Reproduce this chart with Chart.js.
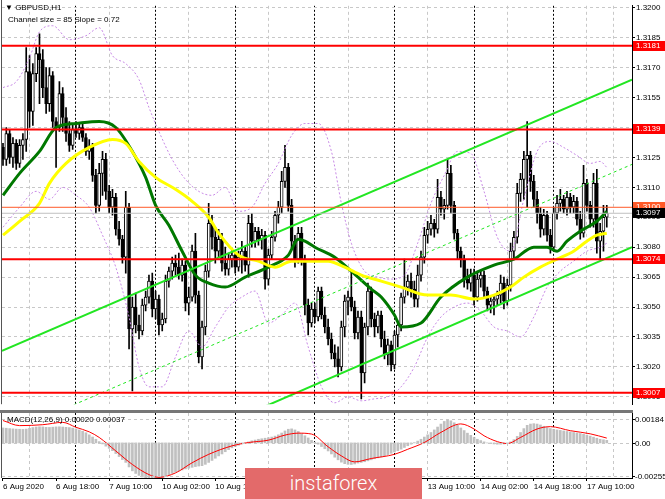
<!DOCTYPE html>
<html>
<head>
<meta charset="utf-8">
<title>GBPUSD,H1</title>
<script src="https://cdn.jsdelivr.net/npm/chart.js"></script>
<style>
  body { margin: 0; background: #fff; }
  #wrap { position: relative; width: 665px; height: 499px; overflow: hidden; background: #fff; font-family: "Liberation Sans", Arial, sans-serif; }
  canvas { position: absolute; left: 0; }
  #main { top: 0; }
  #macd { top: 410px; }
  .lbl { position: absolute; font-size: 8px; line-height: 10px; color: #000; white-space: nowrap; }
  #sep { position: absolute; left: 0; top: 410px; width: 633px; height: 3px; background: #777; }
  #logo { position: absolute; left: 245px; top: 468px; width: 177px; height: 31px; background: #e36a6a; color: #fff; font: 300 20px Roboto, sans-serif; line-height: 31px; text-align: center; }
</style>
</head>
<body>
<div id="wrap">
  <canvas id="main" width="665" height="410"></canvas>
  <canvas id="macd" width="665" height="89"></canvas>
  <div id="sep"></div>
  <div class="lbl" style="left:5px;top:3px">▼ GBPUSD,H1</div>
  <div class="lbl" style="left:8px;top:15px">Channel size = 85 Slope = 0.72</div>
  <div class="lbl" style="left:7px;top:415px">MACD(12,26,9) 0.00020 0.00037</div>
  <div id="logo">instaforex</div>
</div>
<script>
// H1 bars, bar 0 = 6 Aug 02:00
const open = [
  1.3130,1.3124,1.3137,1.3125,1.3132,1.3122,1.3131,1.3134,1.3168,1.3148,
  1.3167,1.3177,1.3174,1.3160,1.3152,1.3166,1.3143,1.3140,1.3157,1.3145,
  1.3137,1.3131,1.3139,1.3137,1.3140,1.3135,1.3128,1.3130,1.3116,1.3101,
  1.3117,1.3124,1.3108,1.3100,1.3105,1.3089,1.3084,1.3075,1.3100,1.3039,
  1.3050,1.3041,1.3038,1.3051,1.3055,1.3063,1.3049,1.3054,1.3041,1.3044,
  1.3063,1.3068,1.3072,1.3070,1.3066,1.3071,1.3052,1.3055,1.3078,1.3056,
  1.3025,1.3040,1.3068,1.3092,1.3085,1.3078,1.3084,1.3072,1.3069,1.3074,
  1.3076,1.3070,1.3075,1.3078,1.3071,1.3092,1.3083,1.3088,1.3084,1.3086,
  1.3064,1.3076,1.3085,1.3096,1.3100,1.3113,1.3120,1.3101,1.3083,1.3074,
  1.3087,1.3074,1.3051,1.3042,1.3049,1.3045,1.3058,1.3046,1.3040,1.3034,
  1.3027,1.3024,1.3020,1.3040,1.3053,1.3055,1.3050,1.3037,1.3045,1.3017,
  1.3040,1.3058,1.3044,1.3040,1.3046,1.3034,1.3026,1.3031,1.3021,1.3036,
  1.3041,1.3055,1.3060,1.3063,1.3059,1.3054,1.3066,1.3075,1.3086,1.3089,
  1.3092,1.3089,1.3105,1.3099,1.3101,1.3117,1.3101,1.3087,1.3078,1.3074,
  1.3064,1.3062,1.3066,1.3055,1.3064,1.3066,1.3058,1.3051,1.3053,1.3054,
  1.3056,1.3062,1.3053,1.3061,1.3078,1.3085,1.3107,1.3114,1.3124,1.3126,
  1.3113,1.3104,1.3097,1.3089,1.3096,1.3086,1.3080,1.3097,1.3102,1.3104,
  1.3099,1.3105,1.3100,1.3103,1.3094,1.3087,1.3112,1.3101,1.3094,1.3112,
  1.3083,1.3088,1.3095
];
const high = [
  1.3132,1.3140,1.3139,1.3135,1.3134,1.3134,1.3137,1.3180,1.3176,1.3172,
  1.3180,1.3187,1.3179,1.3170,1.3170,1.3168,1.3145,1.3163,1.3160,1.3150,
  1.3143,1.3142,1.3143,1.3142,1.3142,1.3137,1.3134,1.3132,1.3119,1.3122,
  1.3128,1.3127,1.3111,1.3109,1.3107,1.3093,1.3086,1.3108,1.3102,1.3055,
  1.3057,1.3046,1.3054,1.3058,1.3066,1.3067,1.3058,1.3056,1.3047,1.3066,
  1.3070,1.3075,1.3076,1.3077,1.3074,1.3073,1.3060,1.3081,1.3087,1.3058,
  1.3043,1.3071,1.3102,1.3096,1.3090,1.3089,1.3087,1.3080,1.3077,1.3079,
  1.3078,1.3078,1.3083,1.3080,1.3096,1.3097,1.3090,1.3090,1.3089,1.3088,
  1.3079,1.3088,1.3098,1.3103,1.3118,1.3131,1.3122,1.3104,1.3086,1.3090,
  1.3090,1.3076,1.3054,1.3052,1.3052,1.3060,1.3060,1.3050,1.3044,1.3037,
  1.3031,1.3030,1.3043,1.3056,1.3058,1.3068,1.3053,1.3048,1.3048,1.3042,
  1.3062,1.3060,1.3047,1.3048,1.3048,1.3038,1.3034,1.3033,1.3038,1.3043,
  1.3057,1.3074,1.3066,1.3067,1.3063,1.3071,1.3078,1.3090,1.3093,1.3096,
  1.3094,1.3114,1.3108,1.3104,1.3124,1.3121,1.3103,1.3089,1.3080,1.3076,
  1.3069,1.3069,1.3069,1.3068,1.3068,1.3068,1.3060,1.3055,1.3056,1.3058,
  1.3066,1.3065,1.3064,1.3082,1.3088,1.3112,1.3117,1.3128,1.3143,1.3128,
  1.3116,1.3108,1.3100,1.3099,1.3098,1.3089,1.3100,1.3106,1.3109,1.3106,
  1.3108,1.3107,1.3106,1.3105,1.3098,1.3121,1.3114,1.3103,1.3117,1.3119,
  1.3092,1.3101,1.3101
];
const low = [
  1.3121,1.3121,1.3122,1.3120,1.3119,1.3120,1.3124,1.3128,1.3140,1.3141,
  1.3163,1.3152,1.3155,1.3147,1.3148,1.3140,1.3120,1.3138,1.3138,1.3133,
  1.3128,1.3129,1.3135,1.3134,1.3133,1.3126,1.3124,1.3113,1.3097,1.3098,
  1.3106,1.3104,1.3097,1.3096,1.3086,1.3081,1.3072,1.3067,1.3029,1.3008,
  1.3037,1.3034,1.3036,1.3048,1.3052,1.3045,1.3044,1.3036,1.3038,1.3042,
  1.3060,1.3064,1.3066,1.3064,1.3063,1.3048,1.3046,1.3053,1.3052,1.3022,
  1.3019,1.3036,1.3065,1.3079,1.3072,1.3075,1.3068,1.3066,1.3066,1.3070,
  1.3067,1.3068,1.3067,1.3068,1.3065,1.3080,1.3080,1.3081,1.3079,1.3059,
  1.3061,1.3074,1.3083,1.3092,1.3097,1.3110,1.3098,1.3080,1.3070,1.3072,
  1.3071,1.3046,1.3036,1.3040,1.3042,1.3043,1.3044,1.3037,1.3031,1.3024,
  1.3020,1.3015,1.3018,1.3035,1.3046,1.3048,1.3034,1.3034,1.3004,1.3012,
  1.3036,1.3040,1.3035,1.3037,1.3030,1.3024,1.3021,1.3018,1.3019,1.3030,
  1.3038,1.3052,1.3056,1.3055,1.3050,1.3050,1.3063,1.3072,1.3082,1.3086,
  1.3085,1.3087,1.3096,1.3094,1.3099,1.3097,1.3084,1.3074,1.3070,1.3060,
  1.3059,1.3058,1.3051,1.3053,1.3060,1.3055,1.3048,1.3047,1.3046,1.3051,
  1.3052,1.3049,1.3051,1.3058,1.3074,1.3082,1.3103,1.3104,1.3100,1.3108,
  1.3100,1.3092,1.3085,1.3086,1.3083,1.3077,1.3078,1.3094,1.3098,1.3097,
  1.3096,1.3097,1.3097,1.3091,1.3084,1.3085,1.3098,1.3090,1.3090,1.3077,
  1.3074,1.3078,1.3090
];
const close = [
  1.3124,1.3137,1.3125,1.3132,1.3122,1.3131,1.3134,1.3168,1.3148,1.3167,
  1.3177,1.3174,1.3160,1.3152,1.3166,1.3143,1.3140,1.3157,1.3145,1.3137,
  1.3131,1.3139,1.3137,1.3140,1.3135,1.3128,1.3130,1.3116,1.3101,1.3117,
  1.3124,1.3108,1.3100,1.3105,1.3089,1.3084,1.3075,1.3100,1.3039,1.3050,
  1.3041,1.3038,1.3051,1.3055,1.3063,1.3049,1.3054,1.3041,1.3044,1.3063,
  1.3068,1.3072,1.3070,1.3066,1.3071,1.3052,1.3055,1.3078,1.3056,1.3025,
  1.3040,1.3068,1.3092,1.3085,1.3078,1.3084,1.3072,1.3069,1.3074,1.3076,
  1.3070,1.3075,1.3078,1.3071,1.3092,1.3083,1.3088,1.3084,1.3086,1.3064,
  1.3076,1.3085,1.3096,1.3100,1.3113,1.3120,1.3101,1.3083,1.3074,1.3087,
  1.3074,1.3051,1.3042,1.3049,1.3045,1.3058,1.3046,1.3040,1.3034,1.3027,
  1.3024,1.3020,1.3040,1.3053,1.3055,1.3050,1.3037,1.3045,1.3017,1.3040,
  1.3058,1.3044,1.3040,1.3046,1.3034,1.3026,1.3031,1.3021,1.3036,1.3041,
  1.3055,1.3060,1.3063,1.3059,1.3054,1.3066,1.3075,1.3086,1.3089,1.3092,
  1.3089,1.3105,1.3099,1.3101,1.3117,1.3101,1.3087,1.3078,1.3074,1.3064,
  1.3062,1.3066,1.3055,1.3064,1.3066,1.3058,1.3051,1.3053,1.3054,1.3056,
  1.3062,1.3053,1.3061,1.3078,1.3085,1.3107,1.3114,1.3124,1.3126,1.3113,
  1.3104,1.3097,1.3089,1.3096,1.3086,1.3080,1.3097,1.3102,1.3104,1.3099,
  1.3105,1.3100,1.3103,1.3094,1.3087,1.3112,1.3101,1.3094,1.3112,1.3083,
  1.3088,1.3095,1.3097
];

// moving averages, read at sample bars
const greenBars = [0,5,11,16,22,29,34,39,43,46,50,54,58,62,67,73,80,86,89,91,94,100,105,111,114,118,120,126,132,140,148,154,160,164,167,170,174,179,182];
const greenValues = [1.3106,1.3117,1.3128,1.3140,1.3142,1.3143,1.3140,1.3128,1.3115,1.3101,1.3091,1.3078,1.3066,1.3062,1.3060,1.3065,1.3070,1.3076,1.3084,1.3083,1.3080,1.3075,1.3068,1.3059,1.3055,1.3046,1.3040,1.3042,1.3055,1.3065,1.3071,1.3074,1.3080,1.3080,1.3078,1.3083,1.3088,1.3093,1.3098];
const yellowBars = [0,5,11,14,19,26,33,37,41,46,52,57,62,65,71,77,82,87,93,98,103,108,114,120,128,135,142,148,153,157,162,167,172,176,179,182];
const yellowValues = [1.3086,1.3093,1.3102,1.3112,1.3122,1.3130,1.3134,1.3132,1.3123,1.3115,1.3109,1.3103,1.3095,1.3087,1.3076,1.3073,1.3070,1.3073,1.3073,1.3073,1.3070,1.3066,1.3063,1.3060,1.3056,1.3056,1.3054,1.3056,1.3060,1.3065,1.3070,1.3074,1.3078,1.3083,1.3086,1.3087];

// envelope bands
const upperBars = [0,4,8,11,15,20,25,29,33,37,41,44,47,51,55,59,63,67,71,75,79,83,87,91,95,99,102,105,109,113,117,121,125,129,133,137,141,145,149,153,157,161,165,169,173,177,180,182];
const upperValues = [1.3160,1.3163,1.3175,1.3188,1.3191,1.3184,1.3186,1.3190,1.3176,1.3172,1.3164,1.3150,1.3138,1.3124,1.3114,1.3108,1.3106,1.3110,1.3098,1.3100,1.3112,1.3122,1.3136,1.3142,1.3142,1.3128,1.3102,1.3082,1.3068,1.3065,1.3064,1.3066,1.3082,1.3102,1.3116,1.3128,1.3127,1.3108,1.3085,1.3078,1.3104,1.3128,1.3133,1.3130,1.3126,1.3122,1.3123,1.3120];
const lowerBars = [0,5,10,14,18,22,26,30,34,38,41,44,48,52,56,60,64,68,72,76,80,84,88,92,96,100,104,108,112,116,120,124,128,132,136,140,144,148,152,156,160,164,168,172,176,180,182];
const lowerValues = [1.3090,1.3100,1.3108,1.3104,1.3110,1.3106,1.3100,1.3086,1.3070,1.3045,1.3020,1.3010,1.3010,1.3025,1.3038,1.3030,1.3040,1.3050,1.3055,1.3058,1.3042,1.3046,1.3052,1.3030,1.3010,1.3002,1.3005,1.3003,1.3004,1.3005,1.3010,1.3020,1.3035,1.3045,1.3050,1.3052,1.3048,1.3040,1.3038,1.3035,1.3045,1.3060,1.3068,1.3073,1.3078,1.3080,1.3082];

// regression channel (ends at the chart edges)
const channelBars = [-0.3, 189.6];
const channelUpper = [1.3028, 1.3164];
const channelMiddle = [1.29855, 1.31215];
const channelLower = [1.2943, 1.3080];

// horizontal levels
const levels = [1.3181, 1.3139, 1.3074, 1.3007];
const orangeLevel = 1.3100;
const bidPrice = 1.3097;

const priceTicks = [1.3005,1.3020,1.3035,1.3050,1.3065,1.3080,1.3095,1.3110,1.3125,1.3140,1.3155,1.3170,1.3185,1.3200];

// MACD(12,26,9)
const macdHist = [
  0.00115,0.00113,0.00110,0.00108,0.00106,0.00105,0.00104,0.00106,0.00112,0.00118,
  0.00122,0.00124,0.00123,0.00120,0.00119,0.00121,0.00123,0.00124,0.00122,0.00120,
  0.00118,0.00114,0.00108,0.00100,0.00090,0.00078,0.00062,0.00045,0.00028,0.00010,
  -0.00008,-0.00025,-0.00042,-0.00060,-0.00082,-0.00105,-0.00128,-0.00150,-0.00185,-0.00215,
  -0.00235,-0.00250,-0.00262,-0.00272,-0.00278,-0.00280,-0.00278,-0.00272,-0.00265,-0.00255,
  -0.00245,-0.00235,-0.00225,-0.00215,-0.00208,-0.00200,-0.00195,-0.00188,-0.00182,-0.00178,
  -0.00175,-0.00165,-0.00150,-0.00135,-0.00118,-0.00100,-0.00085,-0.00068,-0.00052,-0.00038,
  -0.00028,-0.00018,-0.00008,0.00000,0.00008,0.00016,0.00022,0.00028,0.00032,0.00036,
  0.00040,0.00045,0.00052,0.00062,0.00076,0.00092,0.00105,0.00108,0.00100,0.00088,
  0.00072,0.00055,0.00038,0.00020,0.00005,-0.00010,-0.00028,-0.00045,-0.00062,-0.00085,
  -0.00110,-0.00130,-0.00148,-0.00160,-0.00165,-0.00166,-0.00162,-0.00155,-0.00150,-0.00145,
  -0.00138,-0.00130,-0.00122,-0.00115,-0.00108,-0.00100,-0.00090,-0.00080,-0.00070,-0.00060,
  -0.00048,-0.00035,-0.00022,-0.00010,0.00002,0.00014,0.00028,0.00045,0.00062,0.00080,
  0.00100,0.00122,0.00145,0.00165,0.00175,0.00170,0.00155,0.00135,0.00115,0.00095,
  0.00075,0.00058,0.00042,0.00028,0.00018,0.00008,0.00000,-0.00005,-0.00008,-0.00010,
  -0.00010,-0.00008,-0.00003,0.00008,0.00025,0.00050,0.00080,0.00110,0.00135,0.00145,
  0.00148,0.00145,0.00138,0.00128,0.00118,0.00110,0.00104,0.00100,0.00096,0.00092,
  0.00088,0.00084,0.00080,0.00076,0.00072,0.00066,0.00060,0.00052,0.00044,0.00036,
  0.00028,0.00024,0.00020
];
const signalBars = [0,5,12,18,22,26,29,34,39,44,47,52,57,62,69,74,80,85,89,93,98,102,106,111,118,122,127,132,138,142,145,149,152,156,161,165,171,177,182];
const signalValues = [0.00172,0.00133,0.00140,0.00158,0.00120,0.00085,0.00042,-0.00062,-0.00166,-0.00244,-0.00265,-0.00231,-0.00153,-0.00088,-0.00023,0.00003,0.00021,0.00060,0.00075,0.00068,-0.00030,-0.00100,-0.00146,-0.00120,-0.00088,-0.00049,0.00003,0.00081,0.00146,0.00107,0.00055,0.00010,-0.00005,0.00042,0.00107,0.00125,0.00094,0.00070,0.00037];
const macdTicks = [-0.00255, 0, 0.00184];

// time axis
const labelBars = [0,16,32,48,64,80,96,112,128,144,160,176];
const timeLabels = ['6 Aug 2020','6 Aug 18:00','7 Aug 10:00','10 Aug 02:00','10 Aug 18:00','11 Aug 10:00','12 Aug 02:00','12 Aug 18:00','13 Aug 10:00','14 Aug 02:00','14 Aug 18:00','17 Aug 10:00'];
const gridBars = [8,32,56,80,104,128,152,176,184];
const dayBars = [22,46,70,94,118,142,166];

const xMin = -0.3, xMax = 189.6;
const FONT = '"Liberation Sans", Arial, sans-serif';
Chart.defaults.font.family = FONT;
Chart.defaults.font.size = 8;
Chart.defaults.color = '#000';

const pts = (bars, vals) => bars.map((b, k) => ({ x: b, y: vals[k] }));
const flat = (v) => [{ x: xMin, y: v }, { x: xMax, y: v }];
const idx = close.map((c, i) => i);

function lineDs(data, color, width, dash, smooth) {
  return {
    type: 'line', data, borderColor: color, borderWidth: width, borderDash: dash || [],
    pointRadius: 0, fill: false, order: 1,
    cubicInterpolationMode: smooth ? 'monotone' : 'default', tension: 0
  };
}

function gridAxis(bars, color, dash) {
  return {
    type: 'linear', min: xMin, max: xMax, offset: false, position: 'bottom',
    ticks: { display: false },
    grid: { color, drawTicks: false, offset: false, lineWidth: 1 },
    border: { display: false, dash },
    afterBuildTicks: (s) => { s.ticks = bars.map(v => ({ value: v })); },
    afterFit: (s) => { s.height = 0; }
  };
}

const frame = {
  id: 'frame',
  afterDatasetsDraw(chart) {
    const { ctx, chartArea: a } = chart;
    ctx.save();
    ctx.strokeStyle = '#555';
    ctx.lineWidth = 1;
    ctx.beginPath();
    ctx.moveTo(a.left - 0.5, 0);
    ctx.lineTo(a.left - 0.5, a.bottom);
    ctx.stroke();
    ctx.restore();
  }
};

const priceTags = {
  id: 'priceTags',
  afterDraw(chart) {
    const { ctx, scales: { y }, chartArea: a } = chart;
    const tags = levels.map(v => [v, '#ff0000']).concat([[orangeLevel, '#ff5a28'], [bidPrice, '#000000']]);
    ctx.save();
    ctx.font = '8px ' + FONT;
    ctx.textBaseline = 'middle';
    tags.forEach(([v, c]) => {
      const py = Math.round(y.getPixelForValue(v));
      ctx.fillStyle = c;
      ctx.fillRect(a.right + 1, py - 5, 32, 10);
      ctx.fillStyle = '#fff';
      ctx.fillText(v.toFixed(4), a.right + 4, py);
    });
    ctx.restore();
  }
};

// MACD value axis: grid, ticks and labels placed with the scale itself
const macdAxis = {
  id: 'macdAxis',
  afterDraw(chart) {
    const { ctx, scales: { y }, chartArea: a } = chart;
    ctx.save();
    ctx.font = '8px ' + FONT;
    ctx.textBaseline = 'middle';
    macdTicks.forEach(v => {
      const py = Math.round(y.getPixelForValue(v)) + 0.5;
      ctx.strokeStyle = '#c8c8c8';
      ctx.setLineDash([3, 3]);
      ctx.beginPath(); ctx.moveTo(a.left, py); ctx.lineTo(a.right, py); ctx.stroke();
      ctx.setLineDash([]);
      ctx.strokeStyle = '#000';
      ctx.beginPath(); ctx.moveTo(a.right, py); ctx.lineTo(a.right + 3, py); ctx.stroke();
      ctx.fillStyle = '#000';
      ctx.fillText(v === 0 ? '0.00' : v.toFixed(5), a.right + 3, py);
    });
    ctx.restore();
  }
};

new Chart(document.getElementById('main'), {
  type: 'bar',
  data: {
    datasets: [
      lineDs(flat(bidPrice), '#c0c0c0', 1),
      lineDs(flat(orangeLevel), '#ff5a28', 1),
      ...levels.map(v => lineDs(flat(v), '#ff0000', 2)),
      lineDs(pts(channelBars, channelUpper), '#22e622', 2),
      lineDs(pts(channelBars, channelMiddle), '#22e622', 1, [3, 3]),
      lineDs(pts(channelBars, channelLower), '#22e622', 2),
      lineDs(pts(upperBars, upperValues), '#c88ae6', 1, [2, 2], true),
      lineDs(pts(lowerBars, lowerValues), '#c88ae6', 1, [2, 2], true),
      lineDs(pts(yellowBars, yellowValues), '#ffff00', 3, null, true),
      lineDs(pts(greenBars, greenValues), '#007800', 3, null, true),
      {
        type: 'bar', order: 2, grouped: false, barThickness: 3, minBarLength: 1,
        data: idx.map(i => ({ x: i, y: [open[i], close[i]] })),
        backgroundColor: idx.map(i => close[i] >= open[i] ? '#ffffff' : '#000000'),
        borderColor: '#000', borderWidth: 1, borderSkipped: false
      },
      {
        type: 'bar', order: 3, grouped: false, barThickness: 1,
        data: idx.map(i => ({ x: i, y: [low[i], high[i]] })),
        backgroundColor: '#000'
      }
    ]
  },
  options: {
    responsive: false, animation: false, devicePixelRatio: 1,
    layout: { padding: { left: 2, top: 2, right: 0, bottom: 1 } },
    plugins: { legend: { display: false }, tooltip: { enabled: false } },
    scales: {
      x: gridAxis(gridBars, '#c8c8c8', [3, 3]),
      xd: gridAxis(dayBars, '#000000', [2, 2]),
      y: {
        type: 'linear', position: 'right', min: 1.30013, max: 1.32010,
        afterBuildTicks: (s) => { s.ticks = priceTicks.map(v => ({ value: v })); },
        afterFit: (s) => { s.width = 33; },
        ticks: { padding: 1, callback: (v) => v.toFixed(4) },
        grid: { color: '#c8c8c8', tickLength: 3, tickColor: '#000' },
        border: { display: true, color: '#000', dash: [3, 3] }
      }
    }
  },
  plugins: [frame, priceTags]
});

new Chart(document.getElementById('macd'), {
  type: 'bar',
  data: {
    datasets: [
      lineDs(pts(signalBars, signalValues), '#ff0000', 1, null, true),
      {
        type: 'bar', order: 2, grouped: false, barThickness: 2,
        data: idx.map(i => ({ x: i, y: macdHist[i] })),
        backgroundColor: '#c0c0c0'
      }
    ]
  },
  options: {
    responsive: false, animation: false, devicePixelRatio: 1,
    layout: { padding: { left: 2, top: 3, right: 0, bottom: 0 } },
    plugins: { legend: { display: false }, tooltip: { enabled: false } },
    scales: {
      x: {
        type: 'linear', min: xMin, max: xMax, offset: false, position: 'bottom',
        afterBuildTicks: (s) => { s.ticks = labelBars.map(v => ({ value: v })); },
        afterFit: (s) => { s.height = 21; },
        ticks: {
          align: 'start', maxRotation: 0, autoSkip: false, padding: 1,
          callback: (v) => timeLabels[labelBars.indexOf(v)]
        },
        grid: { drawOnChartArea: false, drawTicks: true, tickLength: 3, color: '#000', offset: false },
        border: { display: true, color: '#000' }
      },
      xg: gridAxis(gridBars, '#c8c8c8', [3, 3]),
      xd: gridAxis(dayBars, '#000000', [2, 2]),
      y: {
        type: 'linear', position: 'right', min: -0.0027, max: 0.0023,
        afterFit: (s) => { s.width = 33; },
        ticks: { display: false },
        grid: { display: false },
        border: { display: true, color: '#000' }
      }
    }
  },
  plugins: [frame, macdAxis]
});
</script>
</body>
</html>
